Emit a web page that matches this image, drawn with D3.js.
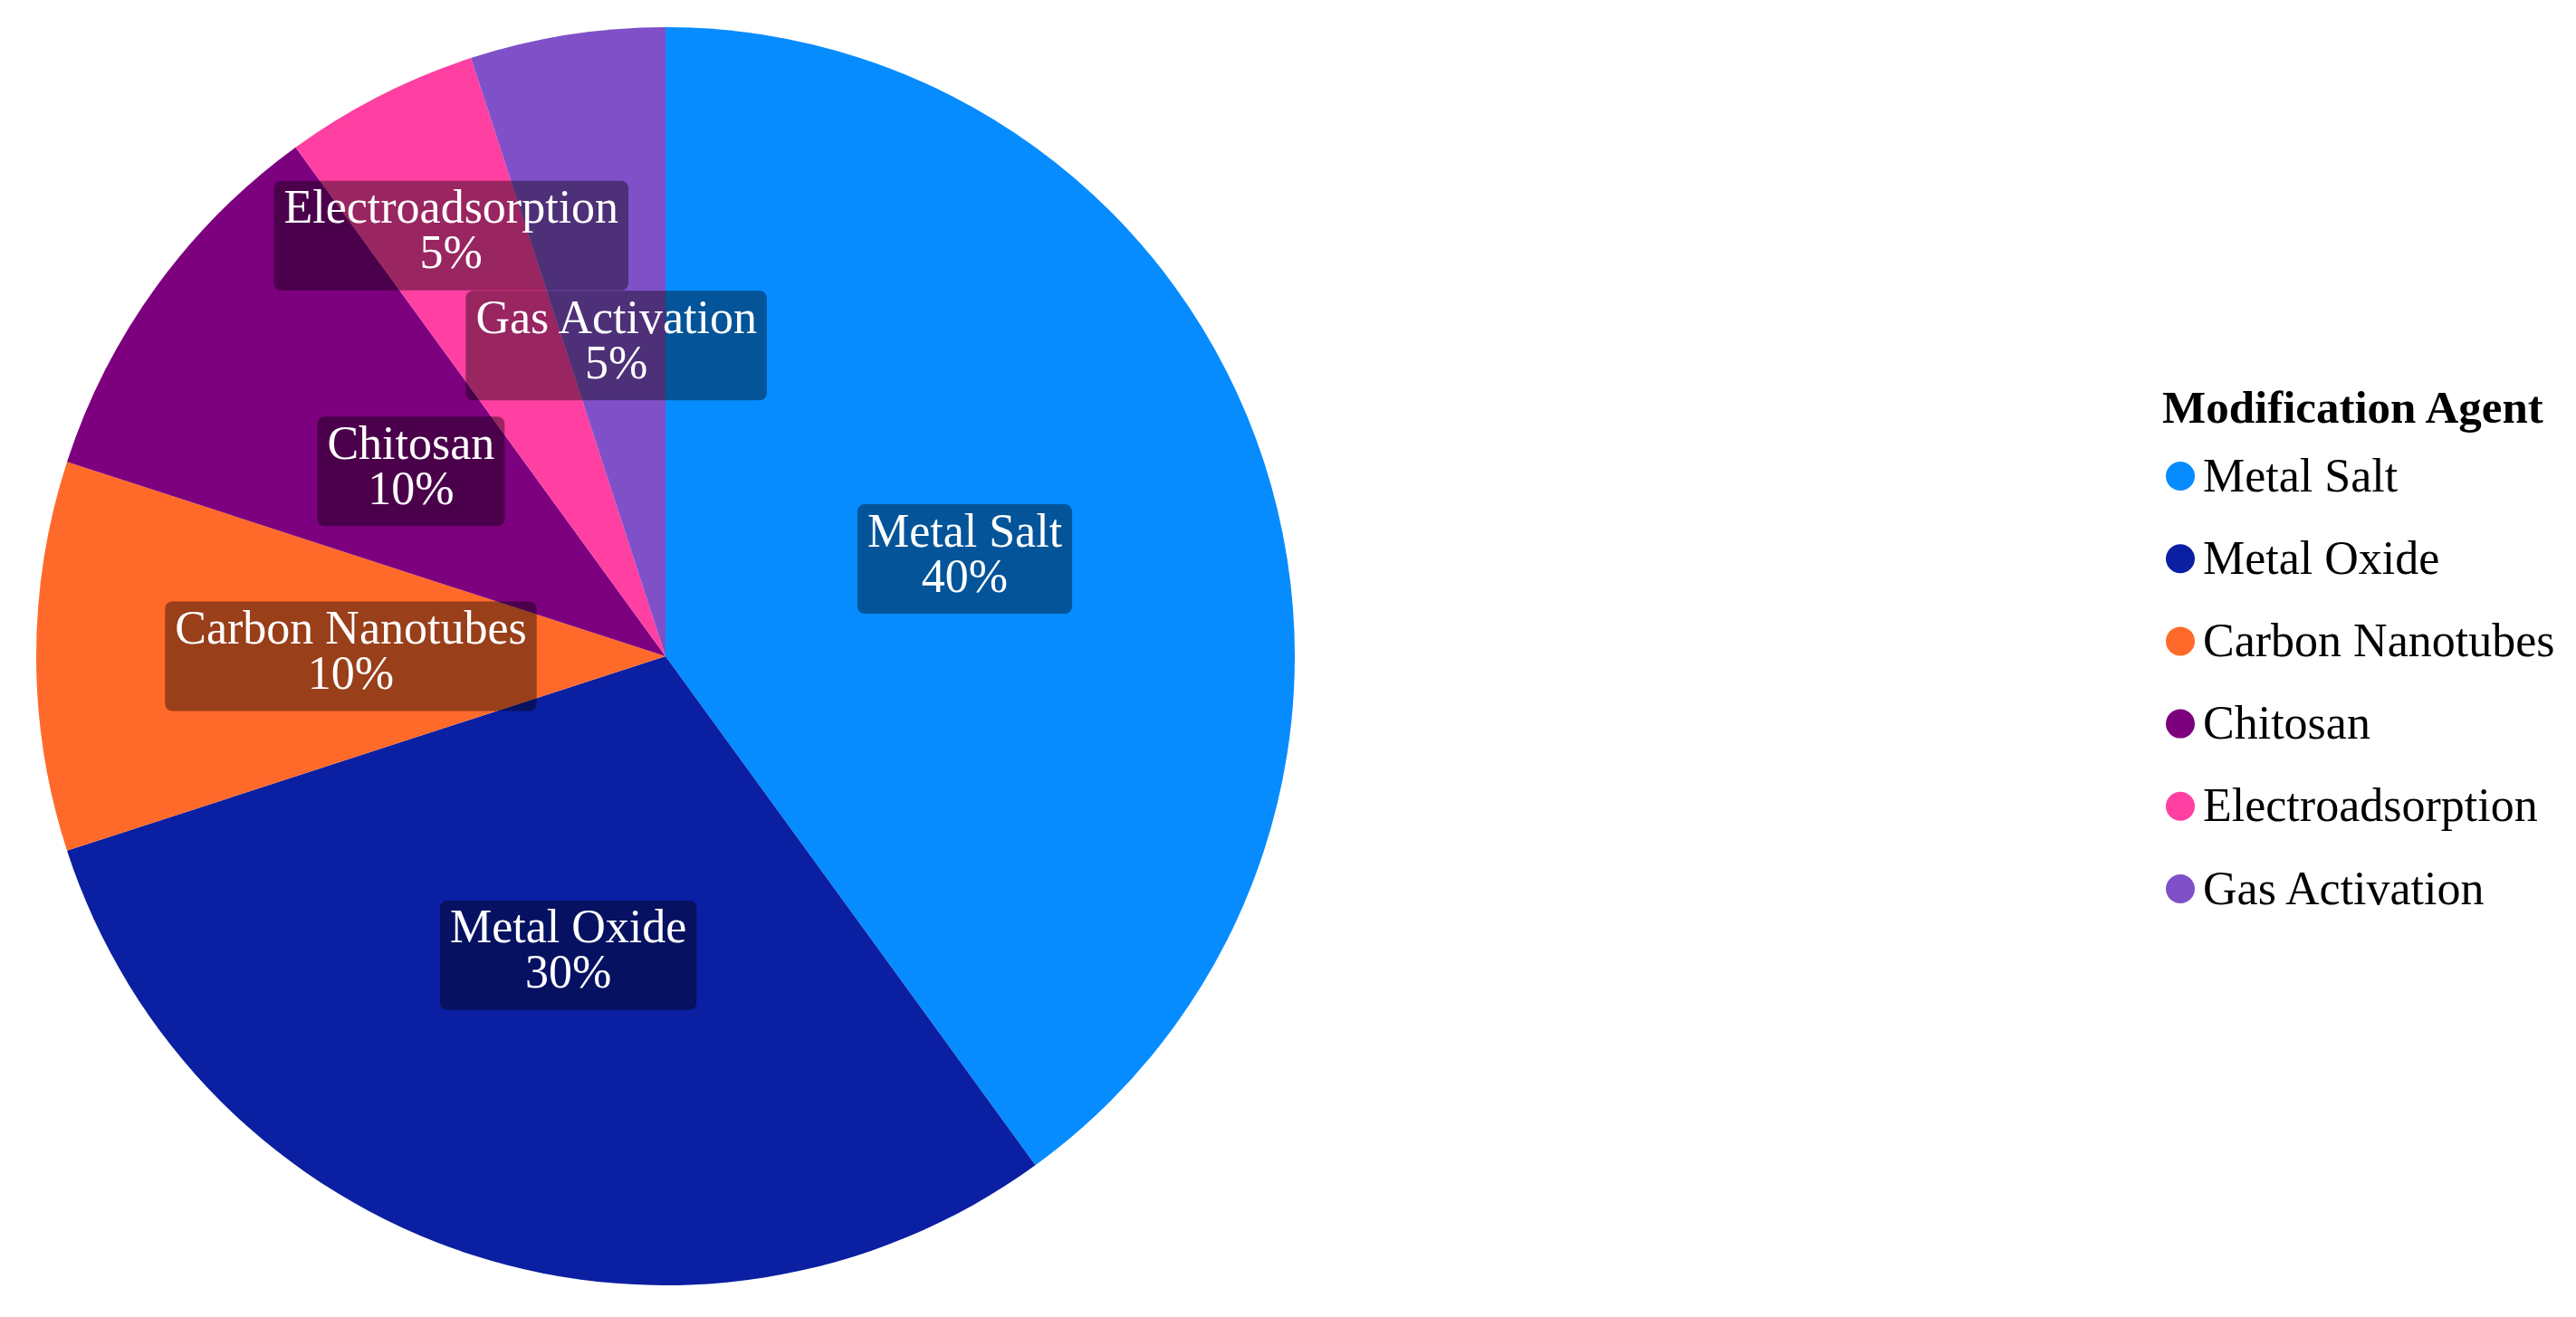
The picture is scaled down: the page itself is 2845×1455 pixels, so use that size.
<!DOCTYPE html>
<html>
<head>
<meta charset="utf-8">
<script src="https://cdn.jsdelivr.net/npm/d3@7"></script>
<style>
  html, body { margin: 0; padding: 0; background: #ffffff; }
  svg { display: block; }
</style>
</head>
<body>
<svg id="chart" width="2845" height="1455"></svg>
<script>
const categories = ["Metal Salt", "Metal Oxide", "Carbon Nanotubes", "Chitosan", "Electroadsorption", "Gas Activation"];
const values = [40, 30, 10, 10, 5, 5];
const colors = ["#068cff", "#0a1fa2", "#ff6a2b", "#7d007e", "#ff3fa2", "#8050c8"];
const legendTitle = "Modification Agent";

const W = 2845, H = 1455;
const cx = 735, cy = 725, R = 695;
const fontFamily = "'Liberation Serif', 'Times New Roman', serif";
const fs = 52;

const data = categories.map((c, i) => ({ name: c, value: values[i], color: colors[i] }));
const total = d3.sum(values);

const svg = d3.select("#chart");
const g = svg.append("g").attr("transform", `translate(${cx},${cy})`);

const pie = d3.pie().value(d => d.value).sort(null);
const arc = d3.arc().innerRadius(0).outerRadius(R);
const arcs = pie(data);

g.selectAll("path.slice")
  .data(arcs)
  .join("path")
  .attr("class", "slice")
  .attr("d", arc)
  .attr("fill", d => d.data.color);

// measure text for label boxes
const measure = svg.append("text")
  .attr("font-family", fontFamily)
  .attr("font-size", fs)
  .attr("visibility", "hidden");
function textWidth(s) { measure.text(s); return measure.node().getComputedTextLength(); }

const padX = 11, boxH = 121;
const labels = arcs.map(a => {
  const pct = Math.round(a.data.value / total * 100) + "%";
  const w = Math.max(textWidth(a.data.name), textWidth(pct)) + 2 * padX;
  return { a, pct, w, h: boxH, mid: (a.startAngle + a.endAngle) / 2 };
});
measure.remove();

// place labels at centroid, push outward to avoid overlaps (small slices first)
const placed = [];
function overlaps(b, o) {
  return !(b.x + b.w / 2 <= o.x - o.w / 2 || b.x - b.w / 2 >= o.x + o.w / 2 ||
           b.y + b.h / 2 <= o.y - o.h / 2 || b.y - b.h / 2 >= o.y + o.h / 2);
}
const order = labels.slice().reverse();
order.forEach(l => {
  let r = R / 2;
  while (true) {
    l.x = Math.sin(l.mid) * r;
    l.y = -Math.cos(l.mid) * r;
    if (!placed.some(o => overlaps(l, o)) || r > R) break;
    r += 1;
  }
  placed.push(l);
});

const lg = g.selectAll("g.label").data(labels).join("g")
  .attr("class", "label")
  .attr("transform", d => `translate(${d.x},${d.y})`);

lg.append("rect")
  .attr("x", d => -d.w / 2)
  .attr("y", d => -d.h / 2)
  .attr("width", d => d.w)
  .attr("height", d => d.h)
  .attr("rx", 8)
  .attr("fill", "rgba(0,0,0,0.4)");

lg.append("text")
  .attr("text-anchor", "middle")
  .attr("font-family", fontFamily)
  .attr("font-size", fs)
  .attr("fill", "#ffffff")
  .attr("y", -14)
  .text(d => d.a.data.name);

lg.append("text")
  .attr("text-anchor", "middle")
  .attr("font-family", fontFamily)
  .attr("font-size", fs)
  .attr("fill", "#ffffff")
  .attr("y", 36)
  .text(d => d.pct);

// legend
const legend = svg.append("g").attr("transform", "translate(2388,0)");
legend.append("text")
  .attr("x", 0).attr("y", 467)
  .attr("font-family", fontFamily)
  .attr("font-size", 51)
  .attr("font-weight", "bold")
  .attr("fill", "#000")
  .text(legendTitle);

const ly = d3.scalePoint().domain(categories).range([526, 982]);
const items = legend.selectAll("g.item").data(data).join("g")
  .attr("class", "item")
  .attr("transform", d => `translate(0,${ly(d.name)})`);
items.append("circle")
  .attr("cx", 20).attr("cy", 0).attr("r", 16)
  .attr("fill", d => d.color);
items.append("text")
  .attr("x", 45).attr("y", 0)
  .attr("dy", "0.32em")
  .attr("font-family", fontFamily)
  .attr("font-size", fs)
  .attr("fill", "#000")
  .text(d => d.name);
</script>
</body>
</html>
